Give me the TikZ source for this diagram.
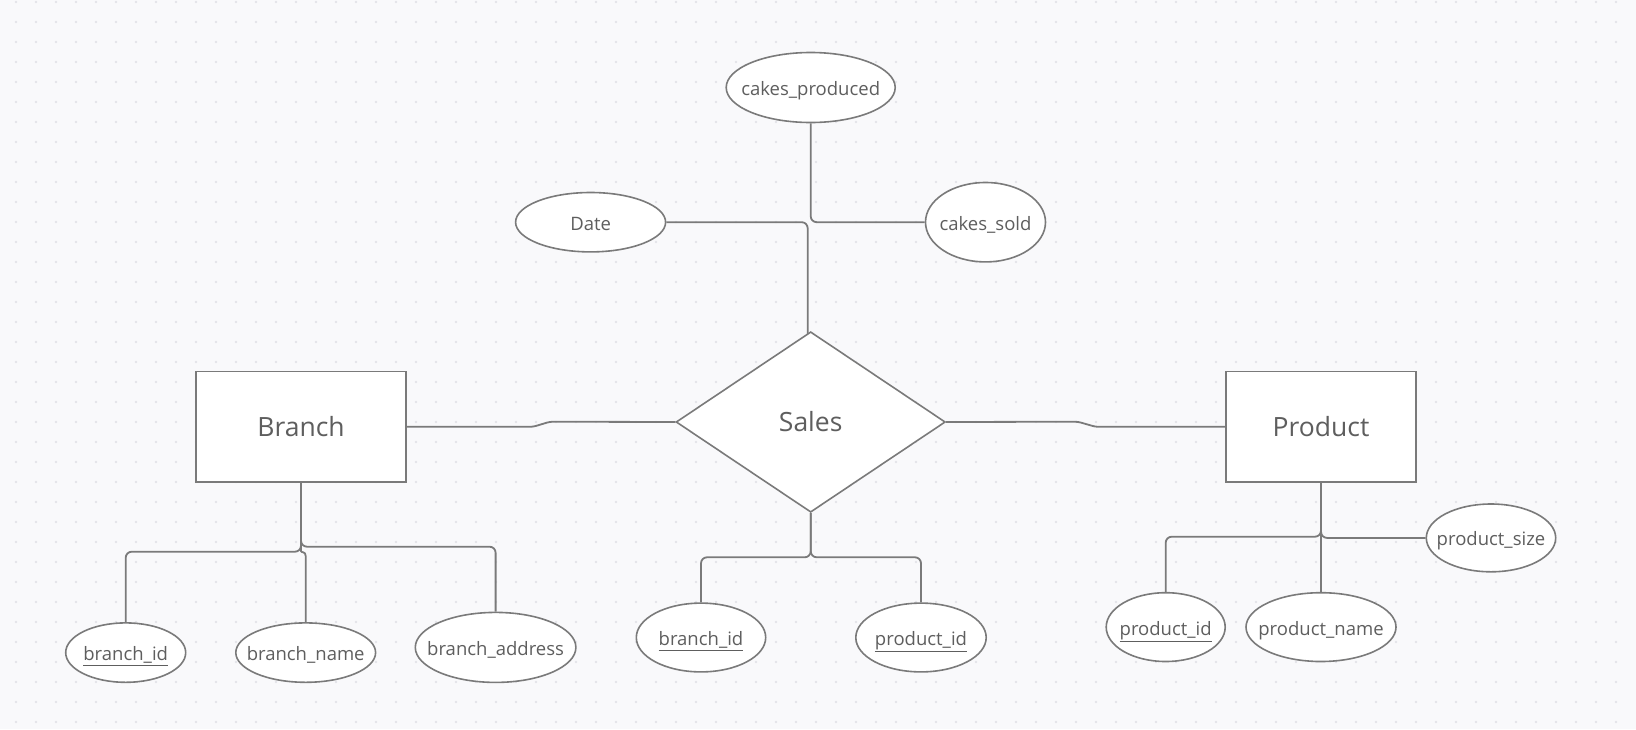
\documentclass[tikz,border=0pt]{standalone}
\usepackage{fontspec}
\setmainfont{Open Sans}
\usetikzlibrary{shapes.geometric,calc}
\definecolor{bgc}{HTML}{F9F9FB}
\definecolor{dotc}{HTML}{E4E4E9}
\definecolor{linec}{HTML}{7A7A7A}
\definecolor{txt}{HTML}{5E5E5E}
\pgfdeclarelayer{bglayer}
\pgfdeclarelayer{edges}
\pgfsetlayers{bglayer,edges,main}
\begin{document}
\begin{tikzpicture}[x=1pt,y=-1pt,
  entity/.style={draw=linec, line width=1.8, fill=white, rectangle, inner sep=0pt, text=txt, font=\fontsize{26.5}{30}\selectfont},
  rel/.style={draw=linec, line width=1.6, fill=white, diamond, inner sep=0pt, text=txt, font=\fontsize{26.5}{30}\selectfont},
  attr/.style={draw=linec, line width=1.6, fill=white, ellipse, inner xsep=-40pt, inner ysep=-12pt, text height=18.5pt, text depth=2.5pt, text=txt, font=\fontsize{18.5}{22}\selectfont},
  conn/.style={draw=linec, line width=1.8, rounded corners=6}]
\useasboundingbox (0,0) rectangle (1636,729);
\begin{pgfonlayer}{bglayer}
  \fill[bgc] (0,0) rectangle (1636,729);
  \foreach \x in {16,36,...,1616} \foreach \y in {2,22,...,722} \fill[dotc] (\x,\y) circle (1.3);
\end{pgfonlayer}

\node[attr, minimum width=169, minimum height=70] (cp) at (810.7,87.5) {cakes\_produced};
\node[attr, minimum width=150, minimum height=59.4] (date) at (590.6,222.2) {Date};
\node[attr, minimum width=120, minimum height=79.4] (cs) at (985.5,222.2) {cakes\_sold};
\node[rel, minimum width=269.3, minimum height=180.5] (sales) at (810.7,422) {Sales};
\node[entity, minimum width=209.7, minimum height=110.6] (branch) at (301,426.8) {Branch};
\node[entity, minimum width=190, minimum height=110.6] (product) at (1321,426.8) {Product};
\node[attr, minimum width=120, minimum height=59.4] (bid) at (125.7,652.6) {\underline{branch\_id}};
\node[attr, minimum width=139.8, minimum height=59.4] (bname) at (305.7,652.6) {branch\_name};
\node[attr, minimum width=160.6, minimum height=70] (baddr) at (495.6,647.4) {branch\_address};
\node[attr, minimum width=129.4, minimum height=68.8] (sbid) at (701,637.5) {\underline{branch\_id}};
\node[attr, minimum width=130.4, minimum height=68.8] (spid) at (921,637.5) {\underline{product\_id}};
\node[attr, minimum width=119, minimum height=68.8] (pid) at (1165.7,627.1) {\underline{product\_id}};
\node[attr, minimum width=150, minimum height=68.8] (pname) at (1321,627.1) {product\_name};
\node[attr, minimum width=129.4, minimum height=67.8] (psize) at (1491,537.9) {product\_size};

\begin{pgfonlayer}{edges}
  \draw[conn] (cp.south) |- (cs.west);
  \draw[conn] (date.east) -| ($(sales.north)+(-3,10)$);
  \draw[conn, rounded corners=3] (branch.east) -- (533,426.8) -- (550,421.7) -- (sales.west);
  \draw[conn, rounded corners=3] (sales.east) -- (1077.8,421.7) -- (1095.6,426.8) -- (product.west);
  \draw[conn] (branch.south) -- (301,551.7) -| (bid.north);
  \draw[conn] (branch.south) -- (301,546.7) -| (baddr.north);
  \draw[conn] (branch.south) -- (301,545) .. controls (301,553) and (305.7,551) .. (305.7,562) -- (bname.north);
  \draw[conn] (sales.south) -- (810.7,557.3) -| (sbid.north);
  \draw[conn] (sales.south) -- (810.7,557.3) -| (spid.north);
  \draw[conn] (product.south) -- (1321,536.7) -| (pid.north);
  \draw[conn] (product.south) |- (psize.west);
  \draw[conn] (product.south) -- (pname.north);
\end{pgfonlayer}
\end{tikzpicture}
\end{document}
